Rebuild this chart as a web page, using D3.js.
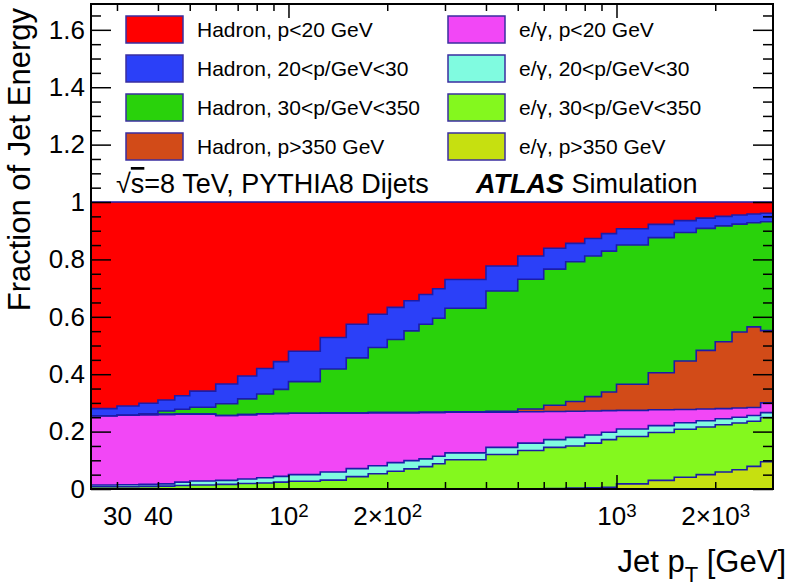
<!DOCTYPE html>
<html><head><meta charset="utf-8">
<script src="https://cdn.jsdelivr.net/npm/d3@7"></script>
<style>
body{margin:0;background:#fff;}
svg{display:block;font-family:"Liberation Sans",Arial,Helvetica,sans-serif;}
</style></head><body>
<svg id="chart" width="796" height="588"></svg>
<script>
// ---------------- DATA ----------------
const binEdges = [25,30,35,40,45,50,60,70,80,90,100,125,150,175,200,225,250,275,300,400,500,600,700,800,900,1000,1250,1500,1750,2000,2250,2500,2750,3000];

// stacked from bottom to top
const seriesKeys = ["egHigh","egMid","egLow2","egLow","hadHigh","hadMid","hadLow2","hadLow"];
const seriesLabels = {
  hadLow:"Hadron, p<20 GeV", hadLow2:"Hadron, 20<p/GeV<30", hadMid:"Hadron, 30<p/GeV<350", hadHigh:"Hadron, p>350 GeV",
  egLow:"e/\u03b3, p<20 GeV", egLow2:"e/\u03b3, 20<p/GeV<30", egMid:"e/\u03b3, 30<p/GeV<350", egHigh:"e/\u03b3, p>350 GeV"
};
const egHigh  = [0.001,0.001,0.001,0.001,0.001,0.001,0.001,0.001,0.001,0.001,0.001,0.001,0.001,0.001,0.001,0.001,0.001,0.001,0.001,0.001,0.001,0.002,0.003,0.004,0.006,0.018,0.030,0.041,0.050,0.059,0.067,0.079,0.095];
const egMid   = [0.007,0.007,0.008,0.009,0.011,0.013,0.015,0.018,0.020,0.023,0.026,0.030,0.042,0.052,0.061,0.069,0.077,0.087,0.101,0.119,0.133,0.143,0.147,0.156,0.166,0.165,0.167,0.167,0.166,0.165,0.163,0.157,0.154];
const egLow2  = [0.006,0.007,0.007,0.008,0.012,0.014,0.014,0.016,0.018,0.020,0.023,0.028,0.028,0.028,0.030,0.029,0.027,0.026,0.024,0.025,0.026,0.027,0.030,0.028,0.026,0.026,0.024,0.023,0.022,0.021,0.020,0.020,0.017];
const egLow   = [0.241,0.242,0.243,0.242,0.237,0.233,0.226,0.224,0.223,0.219,0.214,0.206,0.194,0.185,0.174,0.167,0.162,0.153,0.142,0.123,0.109,0.098,0.091,0.084,0.075,0.065,0.055,0.046,0.041,0.035,0.032,0.028,0.034];
const hadHigh = [0,0,0,0,0,0,0,0,0,0,0,0,0,0,0,0,0,0,0.001,0.003,0.010,0.022,0.034,0.050,0.065,0.091,0.129,0.169,0.204,0.233,0.265,0.281,0.252];
const hadMid  = [0,0,0.003,0.012,0.017,0.024,0.041,0.055,0.069,0.084,0.110,0.153,0.192,0.227,0.255,0.285,0.307,0.328,0.361,0.419,0.452,0.474,0.487,0.490,0.491,0.485,0.471,0.448,0.425,0.404,0.376,0.363,0.379];
const hadLow2 = [0.025,0.032,0.037,0.038,0.047,0.056,0.069,0.080,0.089,0.097,0.106,0.110,0.117,0.116,0.112,0.105,0.104,0.103,0.100,0.087,0.081,0.073,0.064,0.061,0.061,0.057,0.046,0.041,0.036,0.033,0.032,0.030,0.030];
const hadLow  = [0.720,0.711,0.701,0.690,0.675,0.659,0.634,0.606,0.580,0.556,0.520,0.472,0.426,0.391,0.367,0.344,0.322,0.302,0.270,0.223,0.188,0.161,0.144,0.127,0.110,0.093,0.078,0.065,0.056,0.050,0.045,0.042,0.039];

const yMajorTicks = [0,0.2,0.4,0.6,0.8,1,1.2,1.4,1.6];
const xMajorTicks = [100,1000];
const xMinorTicks = [30,40,50,60,70,80,90,200,300,400,500,600,700,800,900,2000];
const xTickValues = [30,40,100,200,1000,2000];
const xTickLabels = ["30","40","10^2","2\u00d710^2","10^3","2\u00d710^3"];

// ---------------- STYLE ----------------
const colors = {
  hadLow:"#ff0000", hadLow2:"#2b40f8", hadMid:"#29d20b", hadHigh:"#d24b18",
  egLow:"#f247f6", egLow2:"#80fbe0", egMid:"#84f81e", egHigh:"#c6e010"
};
const outline = "#1c1ca8";

const svg = d3.select("#chart");
const x = d3.scaleLog().domain([25,3000]).range([91,773]);
const y = d3.scaleLinear().domain([0,1.69]).range([489,4]);

const seriesData = {egHigh,egMid,egLow2,egLow,hadHigh,hadMid,hadLow2,hadLow};
const rows = binEdges.slice(0,-1).map((e,i)=>{
  const r = {x0:e, x1:binEdges[i+1]};
  seriesKeys.forEach(k=>r[k]=seriesData[k][i]);
  return r;
});
const stacked = d3.stack().keys(seriesKeys)(rows);

const plot = svg.append("g");
const pts = layer => {
  const p = layer.map(d=>({x:d.data.x0,y0:d[0],y1:d[1]}));
  const last = layer[layer.length-1];
  p.push({x:last.data.x1,y0:last[0],y1:last[1]});
  return p;
};
const area = d3.area().curve(d3.curveStepAfter).x(d=>x(d.x)).y0(d=>y(d.y0)).y1(d=>y(d.y1));
const line = d3.line().curve(d3.curveStepAfter).x(d=>x(d.x)).y(d=>y(d.y1));

plot.selectAll("path.area").data(stacked).join("path")
  .attr("class","area").attr("d",l=>area(pts(l))).attr("fill",l=>colors[l.key]).attr("stroke","none");
plot.selectAll("path.edge").data(stacked.slice().reverse()).join("path")
  .attr("class","edge").attr("d",l=>line(pts(l))).attr("fill","none")
  .attr("stroke",outline).attr("stroke-width",1.6);

// ---------------- AXES ----------------
const yMinor = d3.range(0,1.69,0.05).map(v=>+v.toFixed(2)).filter(v=>!yMajorTicks.some(m=>Math.abs(m-v)<1e-6));
function styleAxis(g){ g.select(".domain").remove(); g.selectAll(".tick line").attr("stroke","#000").attr("stroke-width",1.5); }

svg.append("g").attr("transform","translate(91,0)")
  .call(d3.axisLeft(y).tickValues(yMajorTicks).tickSize(-20).tickPadding(6).tickFormat(d=>String(+d.toFixed(1))))
  .call(styleAxis)
  .call(g=>g.selectAll(".tick text").attr("font-size",26).attr("fill","#000").attr("font-family","Liberation Sans, Arial, sans-serif"));
svg.append("g").attr("transform","translate(91,0)")
  .call(d3.axisLeft(y).tickValues(yMinor).tickSize(-10).tickFormat(""))
  .call(styleAxis);
svg.append("g").attr("transform","translate(773,0)")
  .call(d3.axisRight(y).tickValues(yMajorTicks).tickSize(-20).tickFormat(""))
  .call(styleAxis);
svg.append("g").attr("transform","translate(773,0)")
  .call(d3.axisRight(y).tickValues(yMinor).tickSize(-10).tickFormat(""))
  .call(styleAxis);

svg.append("g").attr("transform","translate(0,489)")
  .call(d3.axisBottom(x).tickValues(xMajorTicks).tickSize(-14).tickFormat(""))
  .call(styleAxis);
svg.append("g").attr("transform","translate(0,489)")
  .call(d3.axisBottom(x).tickValues(xMinorTicks).tickSize(-7).tickFormat(""))
  .call(styleAxis);
svg.append("g").attr("transform","translate(0,4)")
  .call(d3.axisTop(x).tickValues(xMajorTicks).tickSize(-14).tickFormat(""))
  .call(styleAxis);
svg.append("g").attr("transform","translate(0,4)")
  .call(d3.axisTop(x).tickValues(xMinorTicks).tickSize(-7).tickFormat(""))
  .call(styleAxis);

const labelAxis = svg.append("g").attr("transform","translate(0,489)")
  .call(d3.axisBottom(x).tickValues(xTickValues).tickSize(0).tickPadding(18).tickFormat((d,i)=>xTickLabels[i]));
labelAxis.select(".domain").remove();
labelAxis.selectAll(".tick line").remove();
labelAxis.selectAll(".tick text").each(function(d,i){
  const t = d3.select(this).attr("font-size",26).attr("fill","#000").attr("font-family","Liberation Sans, Arial, sans-serif");
  const s = xTickLabels[i];
  t.text("");
  const parts = s.split("^");
  t.append("tspan").text(parts[0]);
  if(parts[1]) t.append("tspan").attr("dy","-0.45em").attr("font-size","0.72em").text(parts[1]);
});

// frame
svg.append("rect").attr("x",91).attr("y",4).attr("width",682).attr("height",485)
  .attr("fill","none").attr("stroke","#000").attr("stroke-width",2);

// titles
svg.append("text").attr("transform","translate(30,8) rotate(-90)").attr("text-anchor","end")
  .attr("font-size",31).attr("fill","#000").text("Fraction of Jet Energy");
const xt = svg.append("text").attr("x",786).attr("y",572).attr("text-anchor","end").attr("font-size",31).attr("fill","#000");
xt.append("tspan").text("Jet p");
xt.append("tspan").attr("dy",10).attr("font-size",22).text("T");
xt.append("tspan").attr("dy",-10).text(" [GeV]");

// ---------------- LEGEND ----------------
const legendCols = [["hadLow","hadLow2","hadMid","hadHigh"],["egLow","egLow2","egMid","egHigh"]];
const colX = [126,448];
legendCols.forEach((col,ci)=>{
  col.forEach((k,ri)=>{
    const cy = 29.5 + ri*39;
    svg.append("rect").attr("x",colX[ci]).attr("y",cy-13.5).attr("width",57).attr("height",27)
      .attr("fill",colors[k]).attr("stroke","#3a2ea0").attr("stroke-width",1.5);
    svg.append("text").attr("x",colX[ci]+71).attr("y",cy).attr("dy","0.36em")
      .attr("font-size",21).attr("fill","#000").text(seriesLabels[k]);
  });
});

// annotations
const ann = svg.append("text").attr("x",116).attr("y",193).attr("font-size",27).attr("fill","#000");
ann.append("tspan").text("\u221a");
ann.append("tspan").attr("text-decoration","overline").text("s");
ann.append("tspan").text("=8 TeV, PYTHIA8 Dijets");
const atl = svg.append("text").attr("x",476).attr("y",193).attr("font-size",27).attr("fill","#000");
atl.append("tspan").attr("font-weight","bold").attr("font-style","italic").text("ATLAS");
atl.append("tspan").text(" Simulation");
</script>
</body></html>
